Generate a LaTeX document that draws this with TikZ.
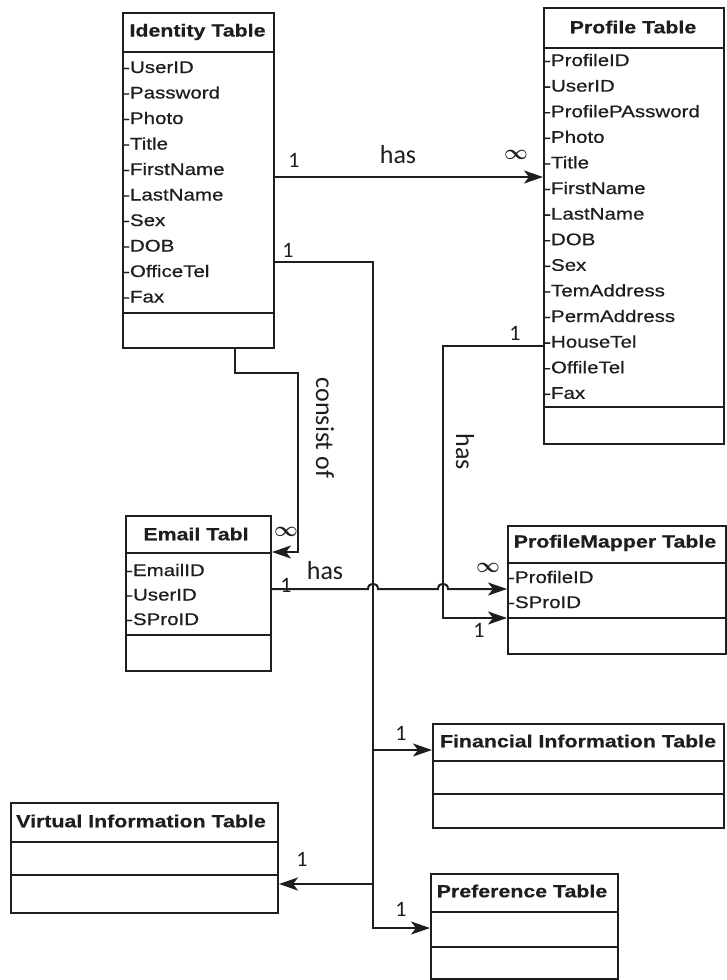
\documentclass[tikz,border=0pt]{standalone}
\usepackage{fontspec}
\newfontfamily\tabfont[FakeStretch=1.22,FakeBold=0.6]{Liberation Sans}
\newfontfamily\lblfont{Carlito}
\usetikzlibrary{arrows.meta,calc}
\definecolor{ink}{HTML}{1E1E1E}
\begin{document}
\begin{tikzpicture}[x=1pt,y=-1pt,
  tbox/.style={draw=ink, line width=2pt, inner sep=0pt, anchor=north west},
  tsep/.style={draw=ink, line width=2pt},
  ttl/.style={font=\tabfont\bfseries\fontsize{17.5}{20}\selectfont, text=ink, inner sep=0pt},
  attr/.style={font=\tabfont\fontsize{16.8}{19}\selectfont, text=ink, inner sep=0pt, anchor=base west},
  conn/.style={draw=ink, line width=2pt},
  arr/.style={conn, -{Stealth[length=19pt,width=13pt,inset=5pt]}},
  lbl/.style={font=\lblfont\fontsize{26}{30}\selectfont, text=ink, inner sep=0pt},
  one/.style={font=\lblfont\fontsize{22}{26}\selectfont, text=ink, inner sep=0pt},
  inf/.style={font=\boldmath\fontsize{20}{24}\selectfont, text=ink, inner sep=0pt}]
\useasboundingbox[fill=white] (0,0) rectangle (727,980);

% ---------- Identity Table ----------
\node[tbox, minimum width=151pt, minimum height=335pt] (identity) at (122,12) {};
\draw[tsep] (122,52) -- (273,52);
\draw[tsep] (122,313) -- (273,313);
\node[ttl] (identityT) at (197.5,32) {Identity Table};
\foreach \t [count=\i from 0] in {-UserID,-Password,-Photo,-Title,-FirstName,-LastName,-Sex,-DOB,-OfficeTel,-Fax}
  \node[attr] (idattr\i) at (123,{73+25.5*\i}) {\t};

% ---------- Profile Table ----------
\node[tbox, minimum width=180pt, minimum height=436pt] (profile) at (543,7) {};
\draw[tsep] (543,48) -- (723,48);
\draw[tsep] (543,407) -- (723,407);
\node[ttl] (profileT) at (633,27) {Profile Table};
\foreach \t [count=\i from 0] in {-ProfileID,-UserID,-ProfilePAssword,-Photo,-Title,-FirstName,-LastName,-DOB,-Sex,-TemAddress,-PermAddress,-HouseTel,-OffileTel,-Fax}
  \node[attr] (prattr\i) at (544,{66+25.6*\i}) {\t};

% ---------- Email Tabl ----------
\node[tbox, minimum width=145pt, minimum height=155pt] (email) at (125,515) {};
\draw[tsep] (125,553) -- (270,553);
\draw[tsep] (125,635) -- (270,635);
\node[ttl] (emailT) at (196,534) {Email Tabl};
\foreach \t [count=\i from 0] in {-EmailID,-UserID,-SProID}
  \node[attr] (emattr\i) at (126,{576+24.5*\i}) {\t};

% ---------- ProfileMapper Table ----------
\node[tbox, minimum width=218pt, minimum height=128pt] (mapper) at (507,525) {};
\draw[tsep] (507,563) -- (725,563);
\draw[tsep] (507,618) -- (725,618);
\node[ttl] (mapperT) at (615,543) {ProfileMapper Table};
\foreach \t [count=\i from 0] in {-ProfileID,-SProID}
  \node[attr] (mpattr\i) at (508,{583+25*\i}) {\t};

% ---------- Financial Information Table ----------
\node[tbox, minimum width=291pt, minimum height=104pt] (financial) at (432,723) {};
\draw[tsep] (432,761) -- (723,761);
\draw[tsep] (432,794) -- (723,794);
\node[ttl] (financialT) at (578,741) {Financial Information Table};

% ---------- Virtual Information Table ----------
\node[tbox, minimum width=267pt, minimum height=110pt] (virtual) at (10,802) {};
\draw[tsep] (10,842) -- (277,842);
\draw[tsep] (10,875) -- (277,875);
\node[ttl] (virtualT) at (141,821) {Virtual Information Table};

% ---------- Preference Table ----------
\node[tbox, minimum width=187pt, minimum height=105pt] (preference) at (430,873) {};
\draw[tsep] (430,912) -- (617,912);
\draw[tsep] (430,947) -- (617,947);
\node[ttl] (preferenceT) at (522,891) {Preference Table};

% ---------- helper coordinates ----------
\coordinate (yHas) at (0,177);
\coordinate (yBus) at (0,262);
\coordinate (bus) at (373,0);
\coordinate (yFin) at (0,750);
\coordinate (yVir) at (0,884);
\coordinate (yPref) at (0,928);
\coordinate (cons) at (235,373);
\coordinate (consx) at (298,0);
\coordinate (yEm) at (0,552);
\coordinate (yHT) at (0,346);
\coordinate (pmx) at (443,0);
\coordinate (yPM) at (0,618);
\coordinate (yEH) at (0,589);

% ---------- connectors ----------
\draw[arr] (identity.east |- yHas) -- (profile.west |- yHas);
\draw[arr] (identity.east |- yBus) -| (bus |- yPref) -- (preference.west |- yPref);
\draw[arr] (bus |- yFin) -- (financial.west |- yFin);
\draw[arr] (bus |- yVir) -- (virtual.east |- yVir);
\draw[arr] (identity.south -| cons) -- (cons) -| (consx |- yEm) -- (email.east |- yEm);
\draw[arr] (profile.west |- yHT) -| (pmx |- yPM) -- (mapper.west |- yPM);
\draw[arr] (email.east |- yEH)
  -- ($(bus |- yEH)+(-5,0)$) .. controls +(0,-7) and +(0,-7) .. ($(bus |- yEH)+(5,0)$)
  -- ($(pmx |- yEH)+(-5,0)$) .. controls +(0,-7) and +(0,-7) .. ($(pmx |- yEH)+(5,0)$)
  -- (mapper.west |- yEH);

% ---------- labels ----------
\node[one] (l1) at (294,160) {1};
\node[lbl] (lhas1) at (398,155) {has};
\node[inf] (linf1) at (516,155) {$\infty$};
\node[one] (l2) at (288,250) {1};
\node[one] (l3) at (401,733) {1};
\node[one] (l4) at (302,859) {1};
\node[one] (l5) at (401,909) {1};
\node[inf] (linf3) at (286,532) {$\infty$};
\node[lbl, rotate=-90] (lcons) at (325,428) {consist of};
\node[one] (l6) at (515,333) {1};
\node[lbl, rotate=-90] (lhas2) at (465,452) {has};
\node[one] (l7) at (479,630) {1};
\node[one] (l8) at (286,585) {1};
\node[lbl] (lhas3) at (325,571) {has};
\node[inf] (linf5) at (488,568) {$\infty$};
\end{tikzpicture}
\end{document}
